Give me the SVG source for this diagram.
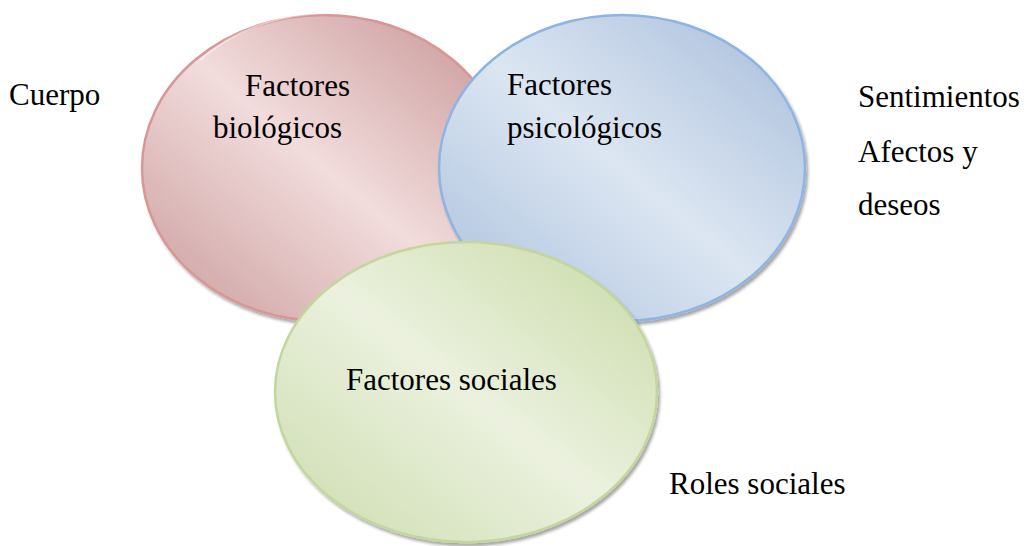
<svg xmlns="http://www.w3.org/2000/svg" width="1031" height="546" viewBox="0 0 1031 546">
<style>
text{font-family:"Liberation Serif","Times New Roman",serif;font-size:31px;fill:#000}
.hl{fill:none;stroke:#fff;stroke-opacity:.45;stroke-width:2}
</style>
<defs>
<filter id="sh" x="-10%" y="-10%" width="125%" height="125%">
<feDropShadow dx="2" dy="3" stdDeviation="1.5" flood-color="#000" flood-opacity="0.35"/>
</filter>
<linearGradient id="gr" x1="0" y1="1" x2="1" y2="0">
<stop offset="0" stop-color="#c99a9a"/><stop offset="0.5" stop-color="#f2dcdc"/><stop offset="1" stop-color="#c69393"/>
</linearGradient>
<linearGradient id="gb" x1="0" y1="1" x2="1" y2="0">
<stop offset="0" stop-color="#a8bfdc"/><stop offset="0.5" stop-color="#dce6f2"/><stop offset="1" stop-color="#a6bcda"/>
</linearGradient>
<linearGradient id="gg" x1="0" y1="1" x2="1" y2="0">
<stop offset="0" stop-color="#cbdcad"/><stop offset="0.5" stop-color="#ebf1de"/><stop offset="1" stop-color="#c8daa6"/>
</linearGradient>
</defs>
<g id="bio">
<ellipse cx="324" cy="168" rx="182" ry="153" fill="url(#gr)" stroke="#d99694" stroke-width="2.5" filter="url(#sh)"/>
<path class="hl" d="M200 60 A178 149 0 0 1 470 70"/>
<text x="245" y="96">Factores</text>
<text x="213" y="138">biológicos</text>
</g>
<g id="psi">
<ellipse cx="622" cy="168" rx="183" ry="153" fill="url(#gb)" stroke="#8eb4e3" stroke-width="2.5" filter="url(#sh)"/>
<text x="507" y="95">Factores</text>
<text x="507" y="138">psicológicos</text>
</g>
<g id="soc">
<ellipse cx="466" cy="392" rx="191" ry="150" fill="url(#gg)" stroke="#c3d69b" stroke-width="2.5" filter="url(#sh)"/>
<text x="346" y="390">Factores sociales</text>
</g>
<g id="connectors"/>
<g id="labels">
<text x="9" y="105">Cuerpo</text>
<text x="858" y="107">Sentimientos</text>
<text x="858" y="162">Afectos y</text>
<text x="858" y="215">deseos</text>
<text x="669" y="494">Roles sociales</text>
</g>
</svg>
